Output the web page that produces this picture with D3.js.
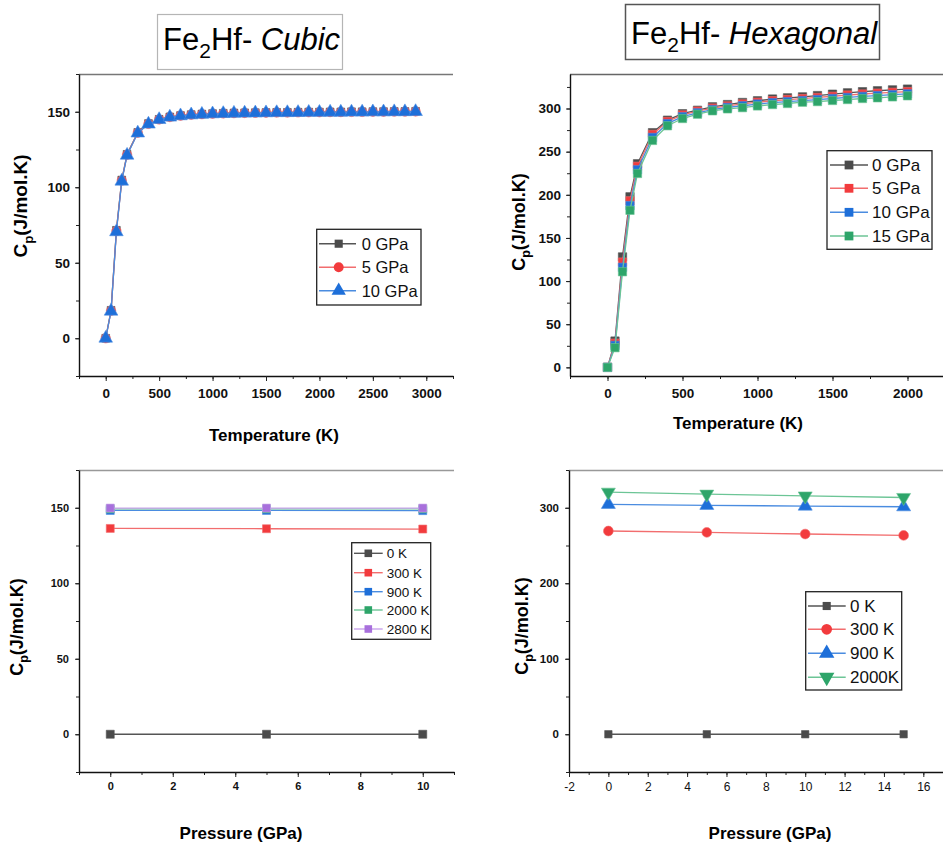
<!DOCTYPE html>
<html>
<head>
<meta charset="utf-8">
<script src="https://cdn.jsdelivr.net/npm/d3@7"></script>
<style>
body { margin: 0; background: #fff; }
svg { display: block; font-family: "Liberation Sans", Arial, sans-serif; }
</style>
</head>
<body>
<svg id="chart" width="943" height="847"></svg>
<script>
// ---- data ----
var tempCubic = [0, 50, 100, 150, 200, 300, 400, 500, 600, 700, 800, 900, 1000, 1100, 1200, 1300, 1400,
    1500, 1600, 1700, 1800, 1900, 2000, 2100, 2200, 2300, 2400, 2500, 2600, 2700, 2800, 2900];
var cubic0GPa = [0, 18.5, 71.5, 104.8, 121.8, 136.3, 142.2, 145.0, 146.6, 147.5, 148.1, 148.5, 148.8, 149.0, 149.2, 149.3,
    149.4, 149.5, 149.6, 149.6, 149.7, 149.8, 149.8, 149.9, 149.9, 150.0, 150.0, 150.1, 150.1, 150.2, 150.2, 150.3];
var cubic5GPa = [0, 18.2, 71.0, 104.4, 121.5, 136.1, 142.0, 144.9, 146.5, 147.4, 148.0, 148.4, 148.7, 148.9, 149.1, 149.2,
    149.3, 149.4, 149.5, 149.5, 149.6, 149.7, 149.7, 149.8, 149.8, 149.9, 149.9, 150.0, 150.0, 150.1, 150.1, 150.2];
var cubic10GPa = [0, 17.9, 70.5, 104.0, 121.2, 135.9, 141.8, 144.8, 146.4, 147.3, 147.9, 148.3, 148.6, 148.8, 149.0, 149.1,
    149.2, 149.3, 149.4, 149.4, 149.5, 149.6, 149.6, 149.7, 149.7, 149.8, 149.8, 149.9, 149.9, 150.0, 150.0, 150.1];

var tempHex = [0, 50, 100, 150, 200, 300, 400, 500, 600, 700, 800, 900, 1000, 1100, 1200, 1300, 1400,
    1500, 1600, 1700, 1800, 1900, 2000];
var hex0GPa = [0, 30.5, 128, 197.7, 236, 272, 286.5, 294, 298, 302, 304.6, 307, 309, 311, 312.4, 313.5, 315,
    316.6, 318.2, 319.5, 320.6, 321.6, 322.5];
var hex5GPa = [0, 28, 122, 193, 233, 270, 285, 292.5, 297, 300.5, 303, 305.3, 307.3, 309, 310.4, 311.5, 312.8,
    314.2, 315.6, 316.8, 317.8, 318.8, 319.6];
var hex10GPa = [0, 25.5, 116, 187.5, 229, 266.5, 282.5, 290.5, 295, 298.8, 301.3, 303.2, 305.2, 306.8, 308, 309.2, 310.4,
    311.6, 312.8, 314, 315, 316, 317];
var hex15GPa = [0, 22.8, 110.8, 182, 224.7, 263, 280, 288.4, 293.4, 297.3, 299.6, 301, 303, 304.6, 305.8, 307.3, 308,
    309.3, 310.4, 311.6, 312.4, 313.5, 314.7];

var presCubic = [0, 5, 10];
var cubic0K = [0, 0, 0];
var cubic300K = [136.3, 136.1, 135.9];
var cubic900K = [148.2, 148.2, 148.1];
var cubic2000K = [149.3, 149.3, 149.3];
var cubic2800K = [149.8, 149.8, 149.8];

var presHex = [0, 5, 10, 15];
var hex0K = [0, 0, 0, 0];
var hex300K = [269.2, 267.4, 265.2, 263.4];
var hex900K = [304.5, 303.2, 302.2, 301.3];
var hex2000K = [320.6, 318.0, 315.6, 313.6];

var ticksTempCubic = [0, 500, 1000, 1500, 2000, 2500, 3000];
var ticksTempHex = [0, 500, 1000, 1500, 2000];
var ticksPresCubic = [0, 2, 4, 6, 8, 10];
var ticksPresHex = [-2, 0, 2, 4, 6, 8, 10, 12, 14, 16];
var ticksCp150 = [0, 50, 100, 150];
var ticksCp300 = [0, 50, 100, 150, 200, 250, 300];
var ticksCp300b = [0, 100, 200, 300];

// ---- colours ----
var col = {
    grey: "#4b4b4b", red: "#f23b3d", blue: "#1e6fd9", green: "#2ea56a", purple: "#a870dc"
};
var lineCol = {
    grey: "#555", red: "#f26d6e", blue: "#4a8ce0", green: "#6cc596", purple: "#c9a3ec"
};

var svg = d3.select("#chart");
var plain = function(d) { return String(d); };

// ---- titles ----
function title(x, y, italic) {
    var t = svg.append("text").attr("x", x).attr("y", y).attr("font-size", 31).attr("fill", "#000");
    t.append("tspan").text("Fe");
    t.append("tspan").attr("dy", 8).attr("font-size", 21).text("2");
    t.append("tspan").attr("dy", -8).text("Hf- ");
    t.append("tspan").attr("font-style", "italic").text(italic);
}
svg.append("rect").attr("x", 157.5).attr("y", 14.5).attr("width", 185).attr("height", 55)
    .attr("fill", "none").attr("stroke", "#b5b5b5").attr("stroke-width", 1.2);
title(163, 50, "Cubic");
svg.append("rect").attr("x", 625.5).attr("y", 4.5).attr("width", 254).attr("height", 55)
    .attr("fill", "none").attr("stroke", "#555").attr("stroke-width", 1.5);
title(631, 44, "Hexagonal");

function symbolPath(kind, size) {
    var types = { square: d3.symbolSquare, circle: d3.symbolCircle, up: d3.symbolTriangle, down: d3.symbolTriangle };
    return d3.symbol().type(types[kind]).size(size)();
}

function drawPanel(p) {
    var x = d3.scaleLinear().domain(p.xDomain).range(p.xRange);
    var y = d3.scaleLinear().domain(p.yDomain).range(p.yRange);
    var g = svg.append("g");

    // top frame line
    g.append("line").attr("x1", p.xRange[0]).attr("x2", p.xRange[1])
        .attr("y1", p.yRange[1] + 0.5).attr("y2", p.yRange[1] + 0.5)
        .attr("stroke", p.topCol).attr("stroke-width", 1.5);

    // minor ticks
    g.append("g").attr("transform", "translate(0," + p.yRange[0] + ")")
        .call(d3.axisBottom(x).tickValues(p.xMinor).tickSize(3).tickFormat(""))
        .call(function(a) { a.select(".domain").remove(); });
    g.append("g").attr("transform", "translate(" + p.xRange[0] + ",0)")
        .call(d3.axisLeft(y).tickValues(p.yMinor).tickSize(3).tickFormat(""))
        .call(function(a) { a.select(".domain").remove(); });

    var xa = g.append("g").attr("transform", "translate(0," + p.yRange[0] + ")")
        .call(d3.axisBottom(x).tickValues(p.xTicks).tickFormat(plain).tickSize(5).tickSizeOuter(0).tickPadding(p.xPad));
    xa.selectAll("text").attr("font-size", p.xFont).attr("font-weight", p.xWeight)
        .attr("font-family", "'Liberation Sans', Arial, sans-serif").attr("fill", "#111");
    var ya = g.append("g").attr("transform", "translate(" + p.xRange[0] + ",0)")
        .call(d3.axisLeft(y).tickValues(p.yTicks).tickFormat(plain).tickSize(4).tickSizeOuter(0).tickPadding(p.yPad));
    ya.selectAll("text").attr("font-size", p.yFont).attr("font-weight", "bold")
        .attr("font-family", "'Liberation Sans', Arial, sans-serif").attr("fill", "#111");
    g.selectAll(".domain").attr("stroke", "#111").attr("stroke-width", 1.4);
    g.selectAll(".tick line").attr("stroke", "#222").attr("stroke-width", 1);

    // series
    var line = d3.line().x(function(d) { return x(d[0]); }).y(function(d) { return y(d[1]); });
    p.series.forEach(function(s) {
        var pts = p.xs.map(function(v, i) { return [v, s.values[i]]; });
        g.append("path").datum(pts).attr("d", line).attr("fill", "none")
            .attr("stroke", lineCol[s.color]).attr("stroke-width", 1.3);
        g.selectAll(null).data(pts).enter().append("path")
            .attr("d", symbolPath(s.symbol, s.size))
            .attr("transform", function(d) {
                return "translate(" + x(d[0]) + "," + y(d[1]) + ")" + (s.symbol === "down" ? " rotate(180)" : "");
            })
            .attr("fill", col[s.color]).attr("stroke", lineCol[s.color]).attr("stroke-width", 0.6);
    });

    // legend
    var L = p.legend;
    g.append("rect").attr("x", L.box[0]).attr("y", L.box[1])
        .attr("width", L.box[2] - L.box[0]).attr("height", L.box[3] - L.box[1])
        .attr("fill", "#fff").attr("stroke", "#222").attr("stroke-width", 1.3);
    p.series.forEach(function(s, i) {
        var yy = L.rows[i];
        g.append("line").attr("x1", L.line[0]).attr("x2", L.line[1]).attr("y1", yy).attr("y2", yy)
            .attr("stroke", lineCol[s.color]).attr("stroke-width", 1.4);
        g.append("path").attr("d", symbolPath(s.symbol, s.size * L.scale))
            .attr("transform", "translate(" + L.marker + "," + yy + ")" + (s.symbol === "down" ? " rotate(180)" : ""))
            .attr("fill", col[s.color]);
        g.append("text").attr("x", L.text).attr("y", yy).attr("dy", "0.36em")
            .attr("font-size", L.font).attr("fill", "#111").text(s.name);
    });

    // axis titles
    g.append("text").attr("x", p.xTitle[0]).attr("y", p.xTitle[1]).attr("text-anchor", "middle")
        .attr("font-size", 17).attr("font-weight", "bold").attr("fill", "#000").text(p.xLabel);
    var yt = g.append("text").attr("text-anchor", "middle").attr("font-weight", "bold")
        .attr("font-size", p.yTitle[2]).attr("fill", "#000")
        .attr("transform", "translate(" + p.yTitle[0] + "," + p.yTitle[1] + ") rotate(-90)");
    yt.append("tspan").text("C");
    yt.append("tspan").attr("dy", p.yTitle[2] * 0.3).attr("font-size", p.yTitle[2] * 0.7).text("p");
    yt.append("tspan").attr("dy", -p.yTitle[2] * 0.3).text("(J/mol.K)");
}

drawPanel({
    xs: tempCubic, xDomain: [-250, 3250], xRange: [79, 453], yDomain: [-25, 175], yRange: [376, 74],
    xTicks: ticksTempCubic, xMinor: d3.range(-250, 3251, 250), yTicks: ticksCp150, yMinor: d3.range(-25, 176, 25),
    xFont: 13.5, xWeight: "bold", xPad: 7, yFont: 13.5, yPad: 5, topCol: "#777",
    xLabel: "Temperature (K)", xTitle: [274, 441], yTitle: [27, 206, 19],
    series: [
        { name: "0 GPa", values: cubic0GPa, color: "grey", symbol: "square", size: 60 },
        { name: "5 GPa", values: cubic5GPa, color: "red", symbol: "circle", size: 70 },
        { name: "10 GPa", values: cubic10GPa, color: "blue", symbol: "up", size: 80 }
    ],
    legend: { box: [316.7, 229.3, 421, 305], rows: [243.7, 267.3, 290.7], line: [319, 356], marker: 338.7,
        text: 361.7, font: 16.5, scale: 1.1 }
});

drawPanel({
    xs: tempHex, xDomain: [-250, 2250], xRange: [570, 945], yDomain: [-10, 340], yRange: [376, 74],
    xTicks: ticksTempHex, xMinor: d3.range(-250, 2251, 250), yTicks: ticksCp300, yMinor: d3.range(-25, 341, 25).filter(function(v) { return v >= -10; }),
    xFont: 13.5, xWeight: "bold", xPad: 7, yFont: 13.5, yPad: 5, topCol: "#666",
    xLabel: "Temperature (K)", xTitle: [738, 429], yTitle: [525, 222, 18],
    series: [
        { name: "0 GPa", values: hex0GPa, color: "grey", symbol: "square", size: 70 },
        { name: "5 GPa", values: hex5GPa, color: "red", symbol: "square", size: 70 },
        { name: "10 GPa", values: hex10GPa, color: "blue", symbol: "square", size: 70 },
        { name: "15 GPa", values: hex15GPa, color: "green", symbol: "square", size: 70 }
    ],
    legend: { box: [827, 150.7, 932, 249.3], rows: [165, 188.3, 212.3, 236], line: [830, 868], marker: 849,
        text: 872, font: 17, scale: 1.1 }
});

drawPanel({
    xs: presCubic, xDomain: [-1, 11], xRange: [79, 454], yDomain: [-25, 175], yRange: [772, 470],
    xTicks: ticksPresCubic, xMinor: d3.range(-1, 12, 1), yTicks: ticksCp150, yMinor: d3.range(-25, 176, 25),
    xFont: 11, xWeight: "bold", xPad: 5, yFont: 11, yPad: 6, topCol: "#999",
    xLabel: "Pressure (GPa)", xTitle: [241, 839], yTitle: [23, 627, 18],
    series: [
        { name: "0 K", values: cubic0K, color: "grey", symbol: "square", size: 64 },
        { name: "300 K", values: cubic300K, color: "red", symbol: "square", size: 64 },
        { name: "900 K", values: cubic900K, color: "blue", symbol: "square", size: 64 },
        { name: "2000 K", values: cubic2000K, color: "green", symbol: "square", size: 64 },
        { name: "2800 K", values: cubic2800K, color: "purple", symbol: "square", size: 64 }
    ],
    legend: { box: [351.7, 542.7, 430.7, 639.3], rows: [553.3, 572.7, 591.7, 610, 629], line: [354, 382.7], marker: 368.3,
        text: 386.7, font: 13.5, scale: 0.9 }
});

drawPanel({
    xs: presHex, xDomain: [-2, 17], xRange: [569, 943], yDomain: [-50, 350], yRange: [772, 470],
    xTicks: ticksPresHex, xMinor: d3.range(-2, 18, 1), yTicks: ticksCp300b, yMinor: d3.range(-50, 351, 50),
    xFont: 12, xWeight: "normal", xPad: 5, yFont: 11.5, yPad: 6, topCol: "#999",
    xLabel: "Pressure (GPa)", xTitle: [770, 839], yTitle: [528, 626, 18],
    series: [
        { name: "0 K", values: hex0K, color: "grey", symbol: "square", size: 55 },
        { name: "300 K", values: hex300K, color: "red", symbol: "circle", size: 75 },
        { name: "900 K", values: hex900K, color: "blue", symbol: "up", size: 85 },
        { name: "2000K", values: hex2000K, color: "green", symbol: "down", size: 85 }
    ],
    legend: { box: [805.7, 591.7, 901.7, 690], rows: [606, 629.3, 653.3, 677.3], line: [808, 845.7], marker: 826.7,
        text: 850, font: 17, scale: 1.2 }
});
</script>
</body>
</html>
